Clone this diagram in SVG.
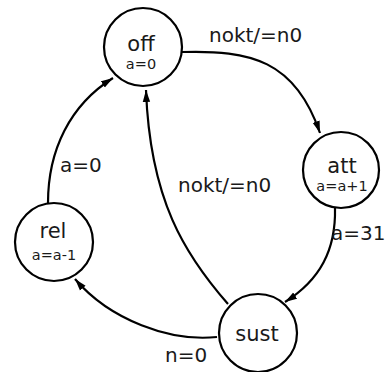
<svg xmlns="http://www.w3.org/2000/svg" width="386" height="372" viewBox="0 0 386 372">
  <style>
    .state circle { fill: #ffffff; stroke: #000000; stroke-width: 2.2; }
    .name { font-family: "DejaVu Sans", Verdana, sans-serif; font-size: 21px; fill: #1a1a1a; text-anchor: middle; }
    .action { font-family: "DejaVu Sans", Verdana, sans-serif; font-size: 14.5px; fill: #1a1a1a; text-anchor: middle; }
    .label { font-family: "DejaVu Sans", Verdana, sans-serif; font-size: 20px; fill: #1a1a1a; }
    .edge { fill: none; stroke: #000000; stroke-width: 2.2; marker-end: url(#arrow); }
  </style>
  <defs>
    <marker id="arrow" markerWidth="13" markerHeight="9" refX="12" refY="4.5" orient="auto" markerUnits="userSpaceOnUse">
      <path d="M0,0.8 L12,4.5 L0,8.2 z" fill="#000000"/>
    </marker>
  </defs>
  <rect width="386" height="372" fill="#ffffff"/>

  <!-- transitions -->
  <g id="connectors">
    <path class="edge" d="M182,52 C250,50 295,60 320,133"/>
    <path class="edge" d="M335,208 C336,250 320,280 285,302"/>
    <path class="edge" d="M217,337 C170,342 110,320 75,279"/>
    <path class="edge" d="M48,203 C48,150 70,105 113,78"/>
    <path class="edge" d="M228,304 C185,255 150,200 146,90"/>
    <text class="label" x="209" y="42">nokt/=n0</text>
    <text class="label" x="331" y="240">a=31</text>
    <text class="label" x="165" y="362">n=0</text>
    <text class="label" x="60" y="172">a=0</text>
    <text class="label" x="178" y="192">nokt/=n0</text>
  </g>

  <!-- states -->
  <g id="off" class="state">
    <circle cx="143" cy="47" r="39"/>
    <text class="name" x="141" y="51">off</text>
    <text class="action" x="141" y="69">a=0</text>
  </g>
  <g id="att" class="state">
    <circle cx="341" cy="170" r="38"/>
    <text class="name" x="342" y="173">att</text>
    <text class="action" x="342" y="191">a=a+1</text>
  </g>
  <g id="rel" class="state">
    <circle cx="54" cy="242" r="39"/>
    <text class="name" x="53" y="238">rel</text>
    <text class="action" x="54" y="260">a=a-1</text>
  </g>
  <g id="sust" class="state">
    <circle cx="258" cy="333" r="39"/>
    <text class="name" x="257" y="341">sust</text>
  </g>
</svg>
